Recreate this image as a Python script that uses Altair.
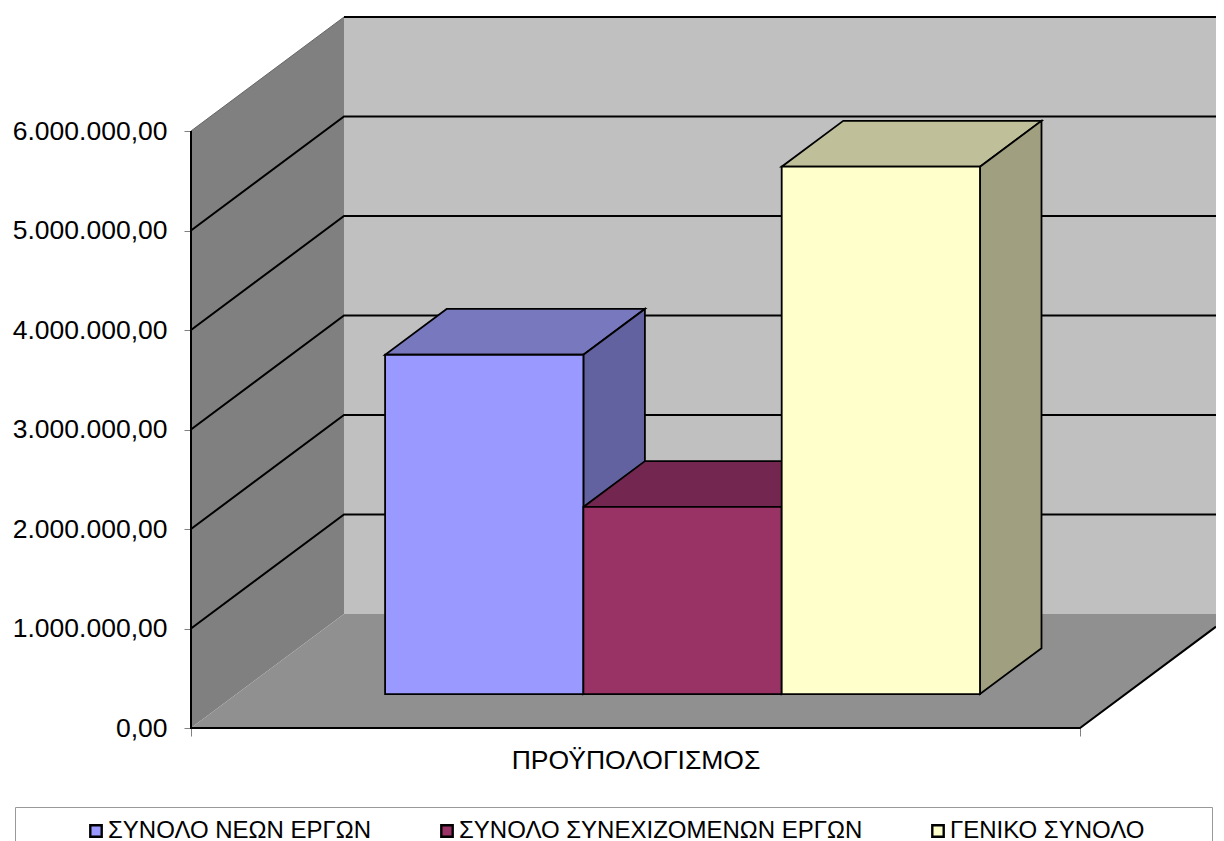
import altair as alt
import pandas as pd

CATEGORY = "ΠΡΟΫΠΟΛΟΓΙΣΜΟΣ"
SERIES = ["ΣΥΝΟΛΟ ΝΕΩΝ ΕΡΓΩΝ", "ΣΥΝΟΛΟ ΣΥΝΕΧΙΖΟΜΕΝΩΝ ΕΡΓΩΝ", "ΓΕΝΙΚΟ ΣΥΝΟΛΟ"]
VALUES = [3410000, 1880000, 5300000]
TICKS = [0, 1000000, 2000000, 3000000, 4000000, 5000000, 6000000]
FRONT = ["#9999FF", "#993366", "#FFFFCC"]
TOP = ["#7878BF", "#73264F", "#BFBF99"]
SIDE = ["#6262A0", "#5E2040", "#A0A080"]

FONT = "Liberation Sans"
FS = 24
AXIS_FS = 26.5
W, H = 1025, 720
UNIT = 99.5 / 1e6          # pixels per value unit
FLOOR_W = 889
DX, DY = 153, 114          # oblique depth of the box
D0, D1 = 0.298, 0.70       # depth span of the bars
BAR_W = 198.3
GAP = 148.5
XS = alt.Scale(domain=[0, W], nice=False, zero=False)
YS = alt.Scale(domain=[0, H / UNIT], nice=False, zero=False)

X_AXIS = alt.Axis(
    values=[0, FLOOR_W], labels=False, domain=False, grid=False,
    tickColor="#808080", tickSize=8, tickWidth=1,
    title=CATEGORY, titleFont=FONT, titleFontSize=AXIS_FS, titleFontWeight="normal",
    titleColor="black", titleX=FLOOR_W / 2, titleY=32, titleBaseline="middle",
    titleAnchor="middle", titleAlign="center")
Y_AXIS = alt.Axis(
    values=TICKS, domain=False, grid=False, title=None,
    tickColor="#808080", tickSize=7, tickWidth=1,
    labelFont=FONT, labelFontSize=AXIS_FS, labelColor="black", labelPadding=17,
    labelExpr="replace(format(datum.value, ',.0f'), regexp(',', 'g'), '.') + ',00'")
NX = alt.X("x:Q", scale=XS, axis=X_AXIS)
NY = alt.Y("y:Q", scale=YS, axis=Y_AXIS)


def px(u, d):
    return u + DX * d


def py(v, d):
    return v + DY * d / UNIT


def side_face(u0, u1, d0, d1, v0, v1, color, stroke=None, sw=1.8):
    df = pd.DataFrame({
        "x": [px(u0, d0), px(u1, d1)],
        "y": [py(v1, d0), py(v1, d1)],
        "y2": [py(v0, d0), py(v0, d1)],
    })
    kw = {"stroke": stroke, "strokeWidth": sw} if stroke else {}
    return alt.Chart(df).mark_area(color=color, opacity=1, **kw).encode(x=NX, y=NY, y2="y2:Q")


def top_face(u0, u1, d0, d1, v, color, stroke=None, sw=1.8, clip=False):
    df = pd.DataFrame({
        "y": [py(v, d0), py(v, d1)],
        "x": [px(u0, d0), px(u0, d1)],
        "x2": [px(u1, d0), px(u1, d1)],
    })
    kw = {"stroke": stroke, "strokeWidth": sw} if stroke else {}
    return alt.Chart(df).mark_area(color=color, orient="horizontal", clip=clip, opacity=1, **kw).encode(
        x=NX, y=NY, x2="x2:Q")


wall_df = pd.DataFrame({"x": [px(0, 1)], "x2": [W], "y": [py(0, 1)], "y2": [py(TICKS[-1], 1)]})
back_wall = alt.Chart(wall_df).mark_rect(color="#C0C0C0").encode(x=NX, x2="x2:Q", y=NY, y2="y2:Q")
side_wall = side_face(0, 0, 0, 1, 0, TICKS[-1], "#808080")
floor = top_face(0, FLOOR_W, 0, 1, 0, "#909090", clip=True)

grid_rows = []
for t in TICKS[1:-1]:
    grid_rows += [
        {"t": t, "o": 0, "x": px(0, 0), "y": py(t, 0)},
        {"t": t, "o": 1, "x": px(0, 1), "y": py(t, 1)},
        {"t": t, "o": 2, "x": W, "y": py(t, 1)},
    ]
grid = alt.Chart(pd.DataFrame(grid_rows)).mark_line(color="black", strokeWidth=2).encode(
    x=NX, y=NY, detail="t:N", order="o:Q")

top_edge_df = pd.DataFrame({"x": [px(0, 1), W], "y": [py(TICKS[-1], 1)] * 2})
top_edge = alt.Chart(top_edge_df).mark_line(color="black", strokeWidth=2).encode(x=NX, y=NY)
slant_df = pd.DataFrame({"x": [px(0, 0), px(0, 1)], "y": [py(TICKS[-1], 0), py(TICKS[-1], 1)]})
slant = alt.Chart(slant_df).mark_line(color="#666666", strokeWidth=1).encode(x=NX, y=NY)

# Box edge: y axis line, x axis line, right floor edge up to the plot's end
d_end = (W - FLOOR_W) / DX
edge_df = pd.DataFrame({
    "i": [0, 1, 2, 3],
    "x": [px(0, 0), px(0, 0), px(FLOOR_W, 0), px(FLOOR_W, d_end)],
    "y": [py(TICKS[-1], 0), py(0, 0), py(0, 0), py(0, d_end)],
})
edges = alt.Chart(edge_df).mark_line(color="black", strokeWidth=2).encode(x=NX, y=NY, order="i:Q")

lefts = [GAP + i * BAR_W for i in range(3)]
faces = []
for i, val in enumerate(VALUES):
    u0, u1 = lefts[i], lefts[i] + BAR_W
    faces.append(top_face(u0, u1, D0, D1, val, TOP[i], stroke="black"))
    faces.append(side_face(u1, u1, D0, D1, 0, val, SIDE[i], stroke="black"))

front_df = pd.DataFrame({
    "series": SERIES,
    "x": [px(u, D0) for u in lefts],
    "x2": [px(u + BAR_W, D0) for u in lefts],
    "y": [py(0, D0)] * 3,
    "y2": [py(v, D0) for v in VALUES],
})
fronts = alt.Chart(front_df).mark_rect(stroke="black", strokeWidth=1.8).encode(
    x=NX, x2="x2:Q", y=NY, y2="y2:Q",
    color=alt.Color("series:N", scale=alt.Scale(domain=SERIES, range=FRONT), legend=alt.Legend(
        orient="none", legendX=84 - 191, legendY=819 - 8, direction="horizontal", columns=3,
        columnPadding=63, title=None, symbolType="square", symbolSize=130,
        symbolStrokeColor="black", symbolStrokeWidth=2.4, symbolOpacity=1,
        labelFont=FONT, labelFontSize=FS, labelColor="black", labelLimit=1000, labelOffset=0,
        padding=0)),
)

frame = alt.Chart(pd.DataFrame({"k": [0]})).mark_rect(fill=None, stroke="#999999", strokeWidth=1).encode(
    x=alt.value(15.5 - 191), x2=alt.value(1212.5 - 191), y=alt.value(807.5 - 8), y2=alt.value(900))

chart = alt.layer(
    back_wall, side_wall, floor, grid, top_edge, slant, edges, *faces, fronts, frame
).properties(
    width=W, height=H,
    padding={"left": 183, "top": 0, "right": 0, "bottom": 113},
    autosize=alt.AutoSizeParams(type="none"),
    background="white",
).configure_view(stroke=None)

chart.save("out.html", embed_options={"renderer": "svg", "actions": False})
